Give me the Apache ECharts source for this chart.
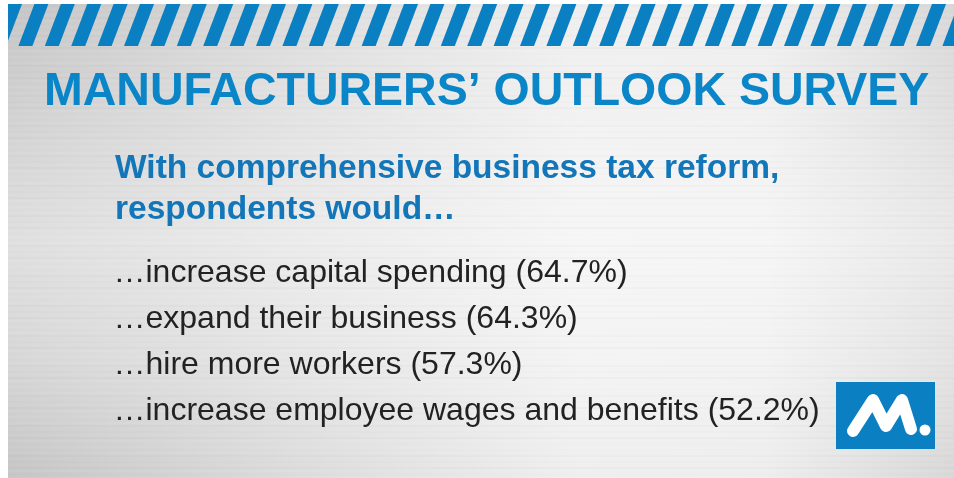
<!DOCTYPE html>
<html><head><meta charset="utf-8">
<script src="https://cdn.jsdelivr.net/npm/echarts@6/dist/echarts.min.js"></script>
<style>html,body{margin:0;padding:0;background:#fff}#c{width:954px;height:478px}</style>
</head><body><div id="c"></div><script>
// ---- data ----
const titleText = 'MANUFACTURERS\u2019 OUTLOOK SURVEY';
const subtitleLines = ['With comprehensive business tax reform,', 'respondents would\u2026'];
const actions = ['increase capital spending', 'expand their business', 'hire more workers', 'increase employee wages and benefits'];
const shares = [64.7, 64.3, 57.3, 52.2];

// ---- decoration ----
const BLUE = '#0a7fc2';
const FONT = '"Liberation Sans", Arial, Helvetica, sans-serif';
const g = [];
// brushed metal background
g.push({type:'rect', z:0, shape:{x:8,y:4,width:946,height:474},
  style:{fill:{type:'linear',x:0,y:0,x2:1,y2:0,colorStops:[
    {offset:0,color:'#c6c6c6'},{offset:0.3,color:'#dcdcdc'},{offset:0.6,color:'#efefef'},{offset:0.8,color:'#eeeeee'},{offset:1,color:'#d8d8d8'}]}}});
g.push({type:'rect', z:1, shape:{x:8,y:4,width:946,height:474},
  style:{fill:{type:'linear',x:0,y:0,x2:0,y2:1,colorStops:[
    {offset:0,color:'rgba(255,255,255,0)'},{offset:0.5,color:'rgba(255,255,255,0.45)'},{offset:0.75,color:'rgba(255,255,255,0.3)'},{offset:1,color:'rgba(255,255,255,0)'}]}}});
// brushed lines
const brushAlpha = [0.10,0.04,0.14,0.06,0.02,0.12,0.05,0.09,0.03,0.11];
for (let k = 0, y = 6; y < 478; y += 3, k++) {
  g.push({type:'line', z:2, shape:{x1:8,y1:y,x2:954,y2:y},
    style:{stroke: k%2 ? 'rgba(255,255,255,'+brushAlpha[k%10]+')' : 'rgba(120,120,120,'+brushAlpha[(k*3)%10]*0.6+')', lineWidth:1}});
}
// hazard stripes
for (let x0 = -8; x0 < 970; x0 += 26.4) {
  g.push({type:'polygon', z:3, shape:{points:[[x0,46],[x0+14,46],[x0+30,4],[x0+16,4]]}, style:{fill:BLUE}});
}
g.push({type:'rect', z:4, shape:{x:0,y:0,width:8,height:478}, style:{fill:'#fff'}});
g.push({type:'rect', z:4, shape:{x:0,y:0,width:954,height:4}, style:{fill:'#fff'}});
// title
g.push({type:'text', z:5, x:44, y:92, style:{text:titleText, font:'bold 46.5px '+FONT, fill:'#0a86c8',
  textVerticalAlign:'middle', verticalAlign:'middle', shadowColor:'rgba(0,0,0,0.35)', shadowOffsetY:1.5, shadowBlur:2}});
// subtitle
subtitleLines.forEach((t,i)=>{
  g.push({type:'text', z:5, x:115, y:[169,210][i], style:{text:t, font:'bold 33.5px '+FONT, fill:'#1276b8',
    textVerticalAlign:'middle', verticalAlign:'middle', shadowColor:'rgba(255,255,255,0.8)', shadowOffsetY:1.5}});
});
// logo
g.push({type:'rect', z:5, shape:{x:836,y:382,width:99,height:67}, style:{fill:BLUE}});
g.push({type:'polyline', z:6, shape:{points:[[853,431],[873,400],[886,426],[902,400],[911,429]]},
  style:{stroke:'#fff', lineWidth:12, lineCap:'round', lineJoin:'round', fill:null}});
g.push({type:'circle', z:6, shape:{cx:925,cy:430,r:5.5}, style:{fill:'#fff'}});

const chart = echarts.init(document.getElementById('c'), null, {renderer:'canvas'});
chart.setOption({
  backgroundColor:'#fff',
  animation:false,
  graphic:g,
  grid:{left:113, top:250, width:700, height:184},
  xAxis:{type:'value', min:0, max:1, show:false},
  yAxis:{type:'category', data:actions, inverse:true, show:false},
  series:[{
    type:'scatter', z:10, symbolSize:1, itemStyle:{color:'rgba(0,0,0,0)'},
    emphasis:{disabled:true},
    data: actions.map((a,i)=>({name:a, value:[0, a, shares[i]]})),
    label:{show:true, position:'right', distance:0, fontSize:32, fontFamily:FONT, color:'#222222', opacity:1,
      textShadowColor:'rgba(255,255,255,0.9)', textShadowOffsetY:1.5, textShadowOffsetX:0.5,
      formatter:p=>'\u2026'+p.value[1]+' ('+p.value[2].toFixed(1)+'%)'}
  }]
});
</script></body></html>
